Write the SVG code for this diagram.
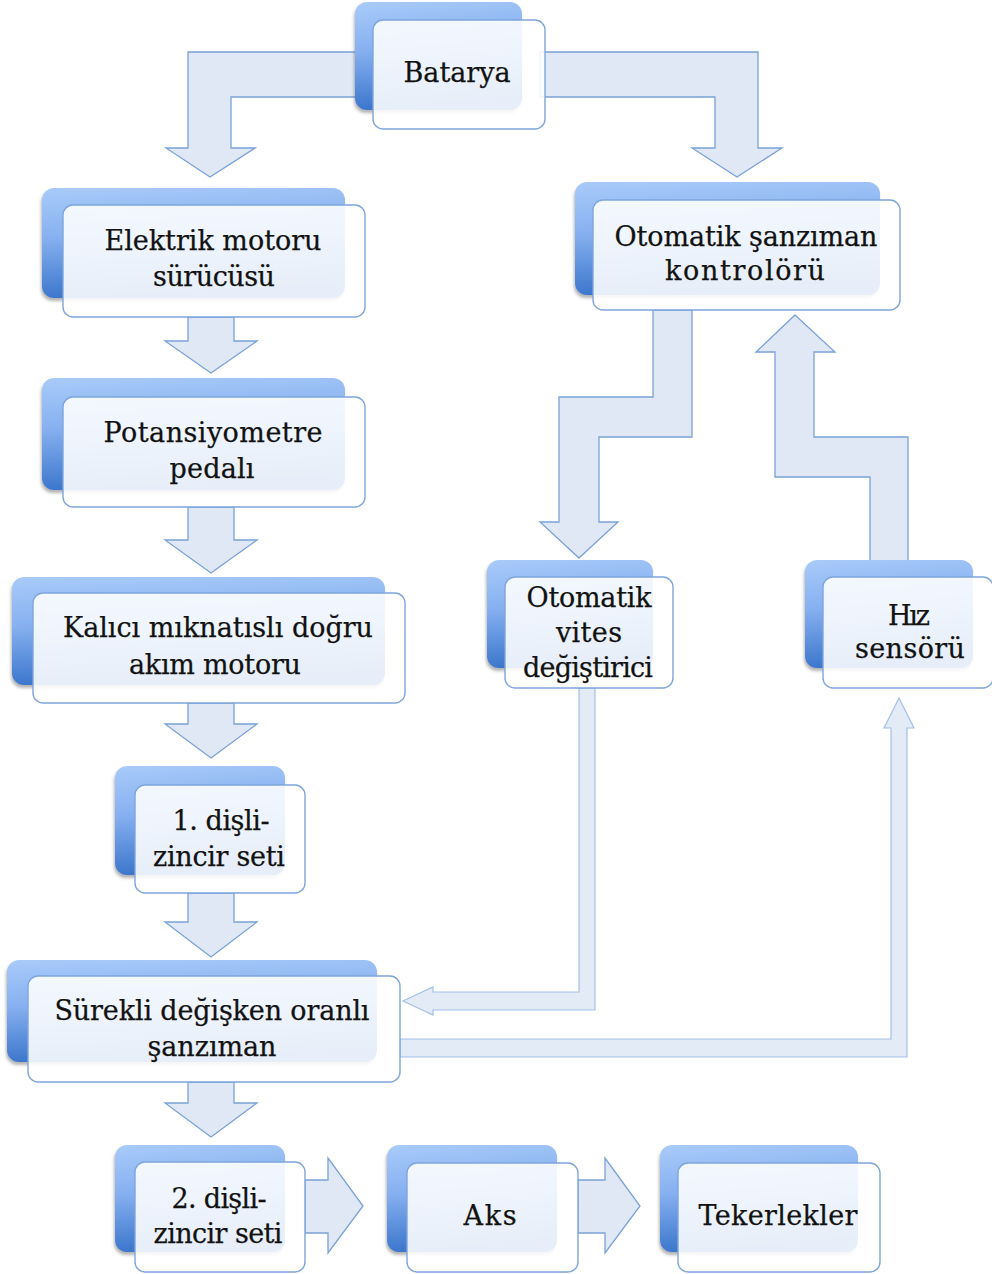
<svg xmlns="http://www.w3.org/2000/svg" width="992" height="1274" viewBox="0 0 992 1274">
<defs>
  <linearGradient id="backG" x1="0" y1="0" x2="0.15" y2="1">
    <stop offset="0" stop-color="#a9cbf9"/>
    <stop offset="0.45" stop-color="#86b0f0"/>
    <stop offset="1" stop-color="#3a75cb"/>
  </linearGradient>
  <filter id="sh" x="-10%" y="-10%" width="120%" height="130%">
    <feDropShadow dx="-1" dy="3" stdDeviation="1.6" flood-color="#444" flood-opacity="0.4"/>
  </filter>
</defs>
<style>
  .back{fill:url(#backG);filter:url(#sh)}
  .front{fill:#ffffff;fill-opacity:0.88;stroke:#7ea5dc;stroke-width:1.4}
  .arr{fill:#dfe8f4;stroke:#7aa2d8;stroke-width:1.3;stroke-linejoin:miter}
  .thin{fill:#e3ebf6;stroke:#a3c0e6;stroke-width:1.2}
  text{font-family:"DejaVu Serif","Liberation Serif",serif;font-size:27px;fill:#121212;stroke:#121212;stroke-width:0.25;text-anchor:middle}
</style>

<g id="connectors">
  <!-- Batarya -> Elektrik motoru surucusu -->
  <polygon class="arr" points="360,52 188,52 188,148 166,148 210,177 255,148 231,148 231,97 360,97"/>
  <!-- Batarya -> Otomatik sanziman kontroloru -->
  <polygon class="arr" points="540,52 758,52 758,148 782,148 737,177 692,148 715,148 715,97 540,97"/>
  <!-- left column down arrows -->
  <polygon class="arr" points="188,317 234,317 234,341 257,341 211,373 165,341 188,341"/>
  <polygon class="arr" points="188,507 234,507 234,540 257,540 211,573 165,540 188,540"/>
  <polygon class="arr" points="188,703 234,703 234,724 257,724 211,758 165,724 188,724"/>
  <polygon class="arr" points="188,893 234,893 234,922 257,922 211,957 165,922 188,922"/>
  <polygon class="arr" points="188,1082 234,1082 234,1103 257,1103 211,1137 165,1103 188,1103"/>
  <!-- bottom row right arrows -->
  <polygon class="arr" points="305,1180 328,1180 328,1158 363,1206 328,1253 328,1233 305,1233"/>
  <polygon class="arr" points="578,1180 605,1180 605,1158 640,1206 605,1253 605,1233 578,1233"/>
  <!-- controller -> otomatik vites degistirici (zigzag) -->
  <polygon class="arr" points="653,310 692,310 692,437 599,437 599,522 618,522 579,558 540,522 559,522 559,397 653,397"/>
  <!-- hiz sensoru -> controller (zigzag up) -->
  <polygon class="arr" points="795,315 835,352 814,352 814,437 908,437 908,562 870,562 870,477 775,477 775,352 756,352"/>
  <!-- otomatik vites -> surekli (thin) -->
  <polygon class="thin" points="579,688 595,688 595,1010 433,1010 433,1015 403,1001 433,987 433,992 579,992"/>
  <!-- surekli -> hiz sensoru (thin) -->
  <polygon class="thin" points="400,1039 891,1039 891,728 884,728 899,698 914,728 907,728 907,1057 400,1057"/>
</g>

<g id="n-batarya">
  <rect class="back" x="355" y="2" width="167" height="108" rx="12"/>
  <rect class="front" x="373" y="20" width="172" height="109" rx="10"/>
  <text x="457" y="82" textLength="107">Batarya</text>
</g>

<g id="n-elektrik">
  <rect class="back" x="42" y="188" width="303" height="110" rx="12"/>
  <rect class="front" x="63" y="205" width="302" height="112" rx="10"/>
  <text x="213" y="250" textLength="217">Elektrik motoru</text>
  <text x="214" y="286" textLength="122">sürücüsü</text>
</g>

<g id="n-potansiyometre">
  <rect class="back" x="42" y="378" width="303" height="112" rx="12"/>
  <rect class="front" x="63" y="397" width="302" height="110" rx="10"/>
  <text x="213" y="442" textLength="219">Potansiyometre</text>
  <text x="212" y="478" textLength="85">pedalı</text>
</g>

<g id="n-kalici">
  <rect class="back" x="12" y="577" width="373" height="108" rx="12"/>
  <rect class="front" x="33" y="593" width="372" height="110" rx="10"/>
  <text x="218" y="637" textLength="310">Kalıcı mıknatıslı doğru</text>
  <text x="215" y="674" textLength="172">akım motoru</text>
</g>

<g id="n-disli1">
  <rect class="back" x="115" y="766" width="170" height="109" rx="12"/>
  <rect class="front" x="135" y="785" width="170" height="108" rx="10"/>
  <text x="221" y="830" textLength="97">1. dişli-</text>
  <text x="219" y="866" textLength="132">zincir seti</text>
</g>

<g id="n-surekli">
  <rect class="back" x="7" y="960" width="370" height="102" rx="12"/>
  <rect class="front" x="28" y="976" width="372" height="106" rx="10"/>
  <text x="212" y="1020" textLength="315">Sürekli değişken oranlı</text>
  <text x="212" y="1056" textLength="129">şanzıman</text>
</g>

<g id="n-disli2">
  <rect class="back" x="115" y="1145" width="170" height="107" rx="12"/>
  <rect class="front" x="135" y="1162" width="170" height="110" rx="10"/>
  <text x="219" y="1208" textLength="95">2. dişli-</text>
  <text x="218" y="1243" textLength="129">zincir seti</text>
</g>

<g id="n-aks">
  <rect class="back" x="387" y="1145" width="170" height="107" rx="12"/>
  <rect class="front" x="407" y="1163" width="171" height="109" rx="10"/>
  <text x="490" y="1225" textLength="53">Aks</text>
</g>

<g id="n-tekerlekler">
  <rect class="back" x="660" y="1145" width="198" height="107" rx="12"/>
  <rect class="front" x="678" y="1163" width="202" height="109" rx="10"/>
  <text x="778" y="1225" textLength="159">Tekerlekler</text>
</g>

<g id="n-kontrolor">
  <rect class="back" x="575" y="182" width="305" height="113" rx="12"/>
  <rect class="front" x="593" y="200" width="307" height="110" rx="10"/>
  <text x="746" y="246" textLength="263">Otomatik şanzıman</text>
  <text x="745" y="280" textLength="160">kontrolörü</text>
</g>

<g id="n-vites">
  <rect class="back" x="487" y="560" width="166" height="108" rx="12"/>
  <rect class="front" x="505" y="577" width="168" height="111" rx="10"/>
  <text x="589" y="607" textLength="125">Otomatik</text>
  <text x="589" y="642" textLength="66">vites</text>
  <text x="588" y="677" textLength="130">değiştirici</text>
</g>

<g id="n-hiz">
  <rect class="back" x="805" y="560" width="168" height="108" rx="12"/>
  <rect class="front" x="823" y="577" width="170" height="111" rx="10"/>
  <text x="909" y="625" textLength="42">Hız</text>
  <text x="910" y="658" textLength="110">sensörü</text>
</g>
</svg>
